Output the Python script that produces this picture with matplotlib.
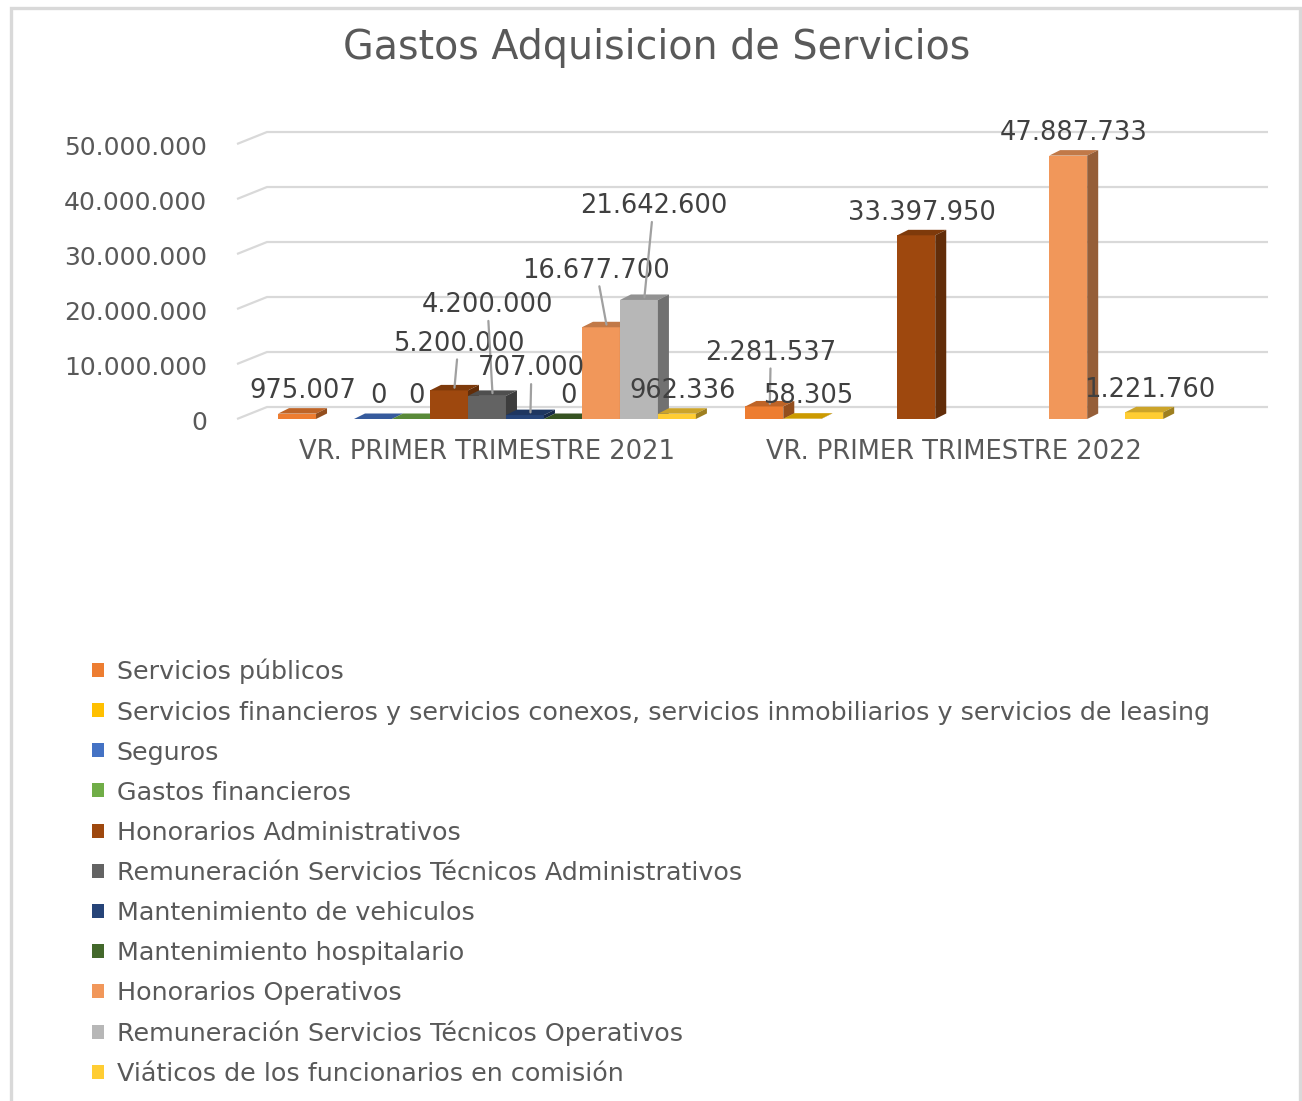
import matplotlib
matplotlib.use("Agg")
import matplotlib.pyplot as plt
from matplotlib.patches import Polygon, Rectangle, Patch
from matplotlib.transforms import offset_copy

# ---------------- data ----------------
title = "Gastos Adquisicion de Servicios"
categories = ["VR. PRIMER TRIMESTRE 2021", "VR. PRIMER TRIMESTRE 2022"]
series_names = [
    "Servicios públicos",
    "Servicios financieros y servicios conexos, servicios inmobiliarios y servicios de leasing",
    "Seguros",
    "Gastos financieros",
    "Honorarios Administrativos",
    "Remuneración Servicios Técnicos Administrativos",
    "Mantenimiento de vehiculos",
    "Mantenimiento hospitalario",
    "Honorarios Operativos",
    "Remuneración Servicios Técnicos Operativos",
    "Viáticos de los funcionarios en comisión",
]
servicios_publicos = [975007, 2281537]
servicios_financieros = [None, 58305]
seguros = [0, None]
gastos_financieros = [0, None]
honorarios_administrativos = [5200000, 33397950]
remuneracion_sta = [4200000, None]
mantenimiento_vehiculos = [707000, None]
mantenimiento_hospitalario = [0, None]
honorarios_operativos = [16677700, 47887733]
remuneracion_sto = [21642600, None]
viaticos = [962336, 1221760]

series_values = [servicios_publicos, servicios_financieros, seguros, gastos_financieros,
                 honorarios_administrativos, remuneracion_sta, mantenimiento_vehiculos,
                 mantenimiento_hospitalario, honorarios_operativos, remuneracion_sto, viaticos]

y_ticks = [0, 10000000, 20000000, 30000000, 40000000, 50000000]
y_tick_labels = ["0", "10.000.000", "20.000.000", "30.000.000", "40.000.000", "50.000.000"]

# ---------------- style ----------------
colors = ['#ED7D31', '#FFC000', '#4472C4', '#70AD47', '#9E480E', '#636363',
          '#264478', '#43682B', '#F1975A', '#B7B7B7', '#FFCD33']
TEXT = '#595959'
LABEL = '#404040'
GRID = '#D9D9D9'
FONT = 'DejaVu Sans'

# label offsets in pixels (dx, dy above bar top); leader line when listed
label_offsets = {
    (4, 0): (4, 47),
    (5, 0): (-5, 91),
    (6, 0): (1, 47),
    (8, 0): (-10, 57),
    (9, 0): (9, 94),
    (0, 1): (1, 54),
}
DEFAULT_DY = 23

GAP = 1.3            # gap between groups (slots)
PAD_L, PAD_R = 1.08, 1.97
BAR_DX, BAR_DY = 0.29, 1.0e6        # bar depth (data units)
FLOOR_DX, FLOOR_DY = 0.79, 2.18e6   # floor depth (data units)

W, H = 1302, 1101
fig = plt.figure(figsize=(W / 100, H / 100), dpi=100)
fig.patch.set_facecolor('white')
ax = fig.add_axes([237 / W, (H - 419) / H, 1001 / W, 275 / H])
n = len(series_names)
xmin = -0.5 - PAD_L
xmax = (n - 1) + 0.5 + (n + GAP) * (len(categories) - 1) + PAD_R
ax.set_xlim(xmin, xmax)
ax.set_ylim(0, 50000000)
ax.axis('off')


def shade(c, f):
    r, g, b = matplotlib.colors.to_rgb(c)
    return (r * f, g * f, b * f)


# back gridlines + floor diagonals
for v in y_ticks:
    ax.plot([xmin, xmin + FLOOR_DX, xmax + FLOOR_DX], [v, v + FLOOR_DY, v + FLOOR_DY],
            color=GRID, lw=1.6, clip_on=False, zorder=1, solid_capstyle='butt')

# y tick labels
tick_tr = offset_copy(ax.transData, fig=fig, x=-30, y=-4, units='dots')
for v, lab in zip(y_ticks, y_tick_labels):
    ax.text(xmin, v, lab, transform=tick_tr, ha='right', va='center',
            fontsize=18, color=TEXT, family=FONT)

# category labels
for g, cat in enumerate(categories):
    cx = g * (n + GAP) + (n - 1) / 2
    ax.text(cx, 0, cat, transform=offset_copy(ax.transData, fig=fig, x=0, y=-33, units='dots'),
            ha='center', va='center', fontsize=18.5, color=TEXT, family=FONT)


def fmt(v):
    return f"{v:,.0f}".replace(",", ".")


# bars (painter's order: left to right)
z = 2
for g in range(len(categories)):
    for i, vals in enumerate(series_values):
        v = vals[g]
        if v is None:
            continue
        x = g * (n + GAP) + i
        x0, x1 = x - 0.5, x + 0.5
        c = colors[i]
        ax.add_patch(Rectangle((x0, 0), 1.0, v, facecolor=c, edgecolor='none',
                               zorder=z, clip_on=False))
        ax.add_patch(Polygon([(x0, v), (x1, v), (x1 + BAR_DX, v + BAR_DY), (x0 + BAR_DX, v + BAR_DY)],
                             closed=True, facecolor=shade(c, 0.80), edgecolor='none',
                             zorder=z + 0.1, clip_on=False))
        ax.add_patch(Polygon([(x1, 0), (x1 + BAR_DX, BAR_DY), (x1 + BAR_DX, v + BAR_DY), (x1, v)],
                             closed=True, facecolor=shade(c, 0.62), edgecolor='none',
                             zorder=z + 0.2, clip_on=False))
        z += 1

# data labels
for g in range(len(categories)):
    for i, vals in enumerate(series_values):
        v = vals[g]
        if v is None:
            continue
        x = g * (n + GAP) + i
        xy = (x + BAR_DX / 2, v + BAR_DY / 2)
        if (i, g) in label_offsets:
            dx, dy = label_offsets[(i, g)]
            ax.annotate(fmt(v), xy=xy, xytext=(dx, dy - 3), textcoords='offset pixels',
                        ha='center', va='center', fontsize=18.5, color=LABEL, family=FONT,
                        zorder=100, annotation_clip=False,
                        arrowprops=dict(arrowstyle='-', color='#A0A0A0', lw=1.6,
                                        shrinkA=0, shrinkB=0))
        else:
            ax.annotate(fmt(v), xy=xy, xytext=(0, DEFAULT_DY - 3), textcoords='offset pixels',
                        ha='center', va='center', fontsize=18.5, color=LABEL, family=FONT,
                        zorder=100, annotation_clip=False)

# title
fig.text(657 / W, 1 - 48 / H, title, ha='center', va='center', fontsize=28.5,
         color=TEXT, family=FONT)

# legend
handles = [Patch(facecolor=c, edgecolor='none') for c in colors]
leg = fig.legend(handles, series_names, loc='upper left',
                 bbox_to_anchor=(92 / W, 1 - 659 / H), frameon=False,
                 prop={'family': FONT, 'size': 18.3}, handlelength=0.47, handleheight=0.47,
                 handletextpad=0.5, labelspacing=0.63, borderpad=0, borderaxespad=0)
for t in leg.get_texts():
    t.set_color(TEXT)

# outer chart border
fig.patches.append(Rectangle((11 / W, -0.02), (1300 - 11) / W, (H - 8) / H + 0.02,
                             transform=fig.transFigure, fill=False, edgecolor=GRID,
                             lw=2.4, zorder=0))

fig.savefig("out.png", dpi=100, facecolor='white')
